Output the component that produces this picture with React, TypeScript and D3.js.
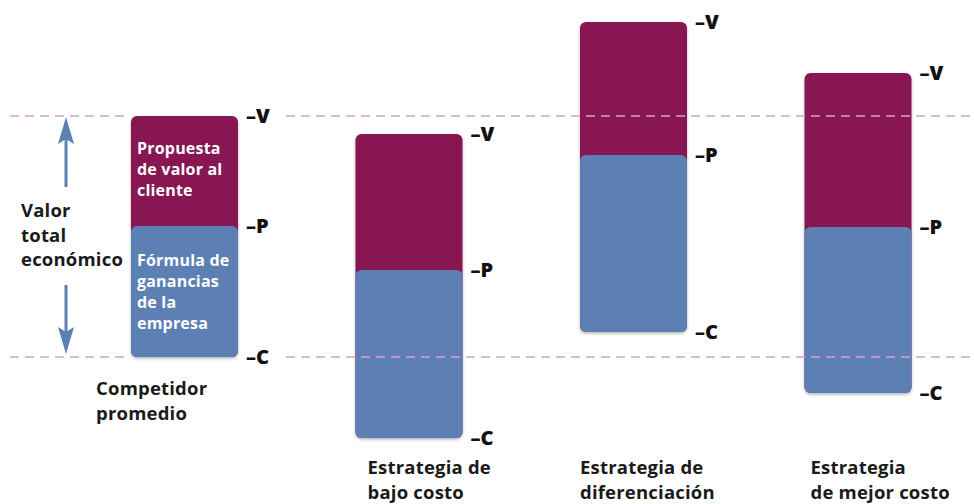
import React from "react";
import * as d3 from "d3";

const categories = ["Competidor promedio", "Estrategia de bajo costo", "Estrategia de diferenciación", "Estrategia de mejor costo"];
const labelLines = [["Competidor", "promedio"], ["Estrategia de", "bajo costo"], ["Estrategia de", "diferenciación"], ["Estrategia", "de mejor costo"]];
const valueV = [100, 92.5, 139, 117.8];
const valueP = [54.4, 36.1, 83.8, 53.9];
const valueC = [0, -33.6, 10.4, -14.9];
const markLabels = ["V", "P", "C"];
const leftLabel = ["Valor", "total", "económico"];
const topSegmentText = ["Propuesta", "de valor al", "cliente"];
const bottomSegmentText = ["Fórmula de", "ganancias", "de la", "empresa"];

const W = 974;
const H = 504;
const PURPLE = "#871652";
const BLUE = "#5c7fb4";
const DASH = "#d9a3bf";
const FONT = "'Open Sans', Lato, sans-serif";
const labelDx = [-35, 12, 0, 6];

export default function App() {
  const x = d3.scalePoint<string>().domain(categories).range([184.5, 858]);
  const y = d3.scaleLinear().domain([0, 100]).range([357, 116]);
  const bw = 107;
  const rx = 6;

  const gapStart = (x(categories[0]) as number) - bw / 2 - 6;
  const gapEnd = (x(categories[0]) as number) + bw / 2 + 48;

  const arrowX = 66;
  const upTip = y(100) + 1;
  const downTip = y(0) - 3;
  const inLeft = (x(categories[0]) as number) - bw / 2 + 6;

  return (
    <svg width={W} height={H} style={{ position: "absolute", left: 0, top: 0, background: "#fff" }} fontFamily={FONT}>
      <defs>
        <filter id="sh" x="-20%" y="-20%" width="140%" height="140%">
          <feDropShadow dx="0" dy="1.5" stdDeviation="1.8" floodColor="#000" floodOpacity="0.3" />
        </filter>
      </defs>
      {categories.map((c, i) => {
        const cx = x(c) as number;
        const left = cx - bw / 2;
        return (
          <g key={c}>
            <g filter="url(#sh)">
              <rect x={left} y={y(valueV[i])} width={bw} height={y(valueC[i]) - y(valueV[i])} rx={rx} fill={PURPLE} />
            </g>
            <rect x={left} y={y(valueP[i])} width={bw} height={y(valueC[i]) - y(valueP[i])} rx={rx} fill={BLUE} />
            {[valueV[i], valueP[i], valueC[i]].map((v, k) => (
              <text key={k} x={left + bw + 8} y={y(v)} dy="0.36em" fontSize={20} fontWeight={800} fill="#111">
                {"–" + markLabels[k]}
              </text>
            ))}
            {labelLines[i].map((t, k) => (
              <text key={k} x={left + labelDx[i]} y={(i === 0 ? 395 : 474) + k * 25} fontSize={18.5} fontWeight={700} fill="#1a1a1a" letterSpacing={0.2}>
                {t}
              </text>
            ))}
          </g>
        );
      })}
      {/* text inside first bar */}
      {topSegmentText.map((t, k) => (
        <text key={"t" + k} x={inLeft} y={154 + k * 21} fontSize={16} fontWeight={700} fill="#fff" letterSpacing={0.2}>
          {t}
        </text>
      ))}
      {bottomSegmentText.map((t, k) => (
        <text key={"b" + k} x={inLeft} y={266 + k * 21} fontSize={16} fontWeight={700} fill="#fff" letterSpacing={0.2}>
          {t}
        </text>
      ))}
      {/* left label */}
      {leftLabel.map((t, k) => (
        <text key={"l" + k} x={21} y={217 + k * 24.5} fontSize={18.5} fontWeight={700} fill="#1a1a1a" letterSpacing={0.2}>
          {t}
        </text>
      ))}
      {/* arrows */}
      <line x1={arrowX} x2={arrowX} y1={187} y2={upTip + 20} stroke={BLUE} strokeWidth={3} />
      <path d={`M${arrowX},${upTip} L${arrowX - 8},${upTip + 27} L${arrowX},${upTip + 22} L${arrowX + 8},${upTip + 27} Z`} fill={BLUE} />
      <line x1={arrowX} x2={arrowX} y1={285} y2={downTip - 20} stroke={BLUE} strokeWidth={3} />
      <path d={`M${arrowX},${downTip} L${arrowX - 8},${downTip - 27} L${arrowX},${downTip - 22} L${arrowX + 8},${downTip - 27} Z`} fill={BLUE} />
      {/* dashed reference lines */}
      {[100, 0].map((v) => (
        <g key={v}>
          <line x1={10} x2={gapStart} y1={y(v)} y2={y(v)} stroke={DASH} strokeWidth={1.6} strokeDasharray="9 6" />
          <line x1={gapEnd} x2={W} y1={y(v)} y2={y(v)} stroke={DASH} strokeWidth={1.6} strokeDasharray="9 6" />
        </g>
      ))}
    </svg>
  );
}
